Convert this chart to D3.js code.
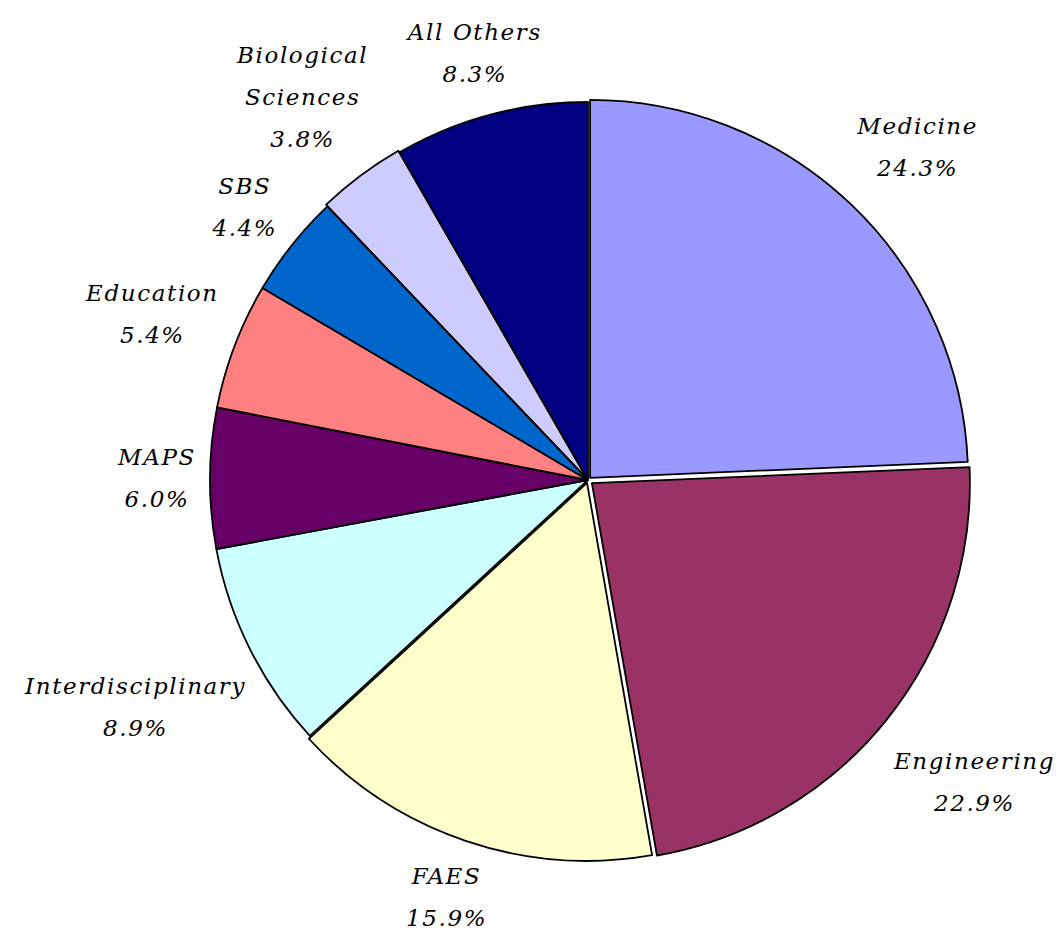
<!DOCTYPE html>
<html>
<head>
<meta charset="utf-8">
<script src="https://cdn.jsdelivr.net/npm/d3@7"></script>
<style>
  html, body { margin: 0; padding: 0; background: #ffffff; }
  svg { display: block; }
  text { font-family: "DejaVu Serif", serif; font-style: italic; fill: #000; }
</style>
</head>
<body>
<svg id="chart" width="1063" height="935"></svg>
<script>
// ---- data ----
const categories = ["Medicine", "Engineering", "FAES", "Interdisciplinary", "MAPS", "Education", "SBS", "Biological Sciences", "All Others"];
const values = [24.3, 22.9, 15.9, 8.9, 6.0, 5.4, 4.4, 3.8, 8.3];
const labelNames = [["Medicine"], ["Engineering"], ["FAES"], ["Interdisciplinary"], ["MAPS"], ["Education"], ["SBS"], ["Biological", "Sciences"], ["All Others"]];

// ---- style ----
const colors = ["#9999FF", "#993366", "#FFFFCC", "#CCFFFF", "#660066", "#FF8080", "#0066CC", "#CCCCFF", "#000080"];
const explode = [3, 5, 3, 0, 0, 0, 0, 2, 0];

const cx = 588, cy = 480, radius = 378, labelGap = 14, rightXGap = 14, lineHeight = 42, fontSize = 23;

const svg = d3.select("#chart");
const data = categories.map((c, i) => ({ name: c, value: values[i], lines: labelNames[i], color: colors[i], ex: explode[i] }));

const pie = d3.pie().sort(null).value(d => d.value);
const arc = d3.arc().innerRadius(0).outerRadius(radius);
const arcs = pie(data);

const g = svg.append("g").attr("transform", `translate(${cx},${cy})`);

function dir(a) {
  const mid = (a.startAngle + a.endAngle) / 2;
  return [Math.sin(mid), -Math.cos(mid)];
}

g.selectAll("path.slice")
  .data(arcs)
  .join("path")
  .attr("class", "slice")
  .attr("d", arc)
  .attr("fill", d => d.data.color)
  .attr("stroke", "#000")
  .attr("stroke-width", 1.8)
  .attr("stroke-linejoin", "round")
  .attr("transform", d => {
    const [dx, dy] = dir(d);
    return `translate(${dx * d.data.ex},${dy * d.data.ex})`;
  });

const fmt = d3.format(".1f");
const labels = g.selectAll("g.label")
  .data(arcs)
  .join("g")
  .attr("class", "label");

labels.each(function(d) {
  const sel = d3.select(this);
  const lines = d.data.lines.concat([fmt(d.data.value) + "%"]);
  const t = sel.append("text")
    .attr("text-anchor", "middle")
    .attr("font-size", fontSize)
    .attr("letter-spacing", "1.6px");
  lines.forEach((ln, i) => {
    t.append("tspan").attr("x", 0).attr("y", i * lineHeight).text(ln);
  });
  const bb = t.node().getBBox();
  const w = bb.width, h = bb.height;
  const [dx, dy] = dir(d);
  const dist = radius + d.data.ex + labelGap + Math.abs(dx) * w / 2 + Math.abs(dy) * h / 2;
  const tx = dx * dist + (dx > 0 ? dx * rightXGap : 0), ty = dy * dist;
  const bcx = bb.x + w / 2, bcy = bb.y + h / 2;
  sel.attr("transform", `translate(${tx - bcx},${ty - bcy})`);
});
</script>
</body>
</html>
